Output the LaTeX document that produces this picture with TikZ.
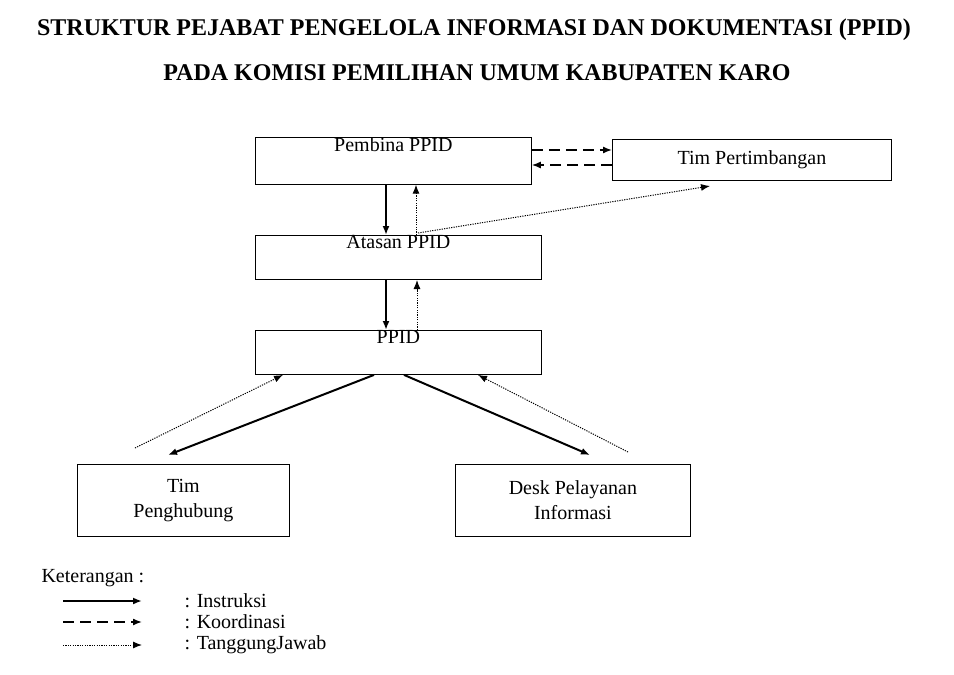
\documentclass[tikz,border=0pt]{standalone}
\usepackage{fontspec}
\setmainfont{Liberation Serif}
\usetikzlibrary{positioning,arrows.meta}
\tikzset{
	kotak/.style={draw,line width=0.8pt,anchor=north west,inner sep=0pt,align=center,font=\fontsize{20}{25}\selectfont},
	instruksi/.style={line width=2pt,-{Latex[length=9pt,width=7pt]}},
	koordinasi/.style={line width=1.4pt,dash pattern=on 11pt off 6pt,-{Latex[length=9pt,width=7pt]}},
	tanggung/.style={line width=1pt,dash pattern=on 1.2pt off 1.2pt,-{Latex[length=9pt,width=7pt]}}
}
\begin{document}
\begin{tikzpicture}[x=1pt,y=-1pt]
\useasboundingbox (0,0) rectangle (954,675);

%Judul
\node[font=\bfseries\fontsize{24}{28}\selectfont] (judulA) at (474,30) {STRUKTUR PEJABAT PENGELOLA INFORMASI DAN DOKUMENTASI (PPID)};
\node[font=\bfseries\fontsize{24}{28}\selectfont] (judulB) at (477,73) {PADA KOMISI PEMILIHAN UMUM KABUPATEN KARO};

%Kotak
\node[kotak,minimum width=276pt,minimum height=46pt] (pembina) at (255,137) {Pembina PPID\\[8pt]};
\node[kotak,minimum width=279pt,minimum height=41pt] (tim) at (612,139) {Tim Pertimbangan};
\node[kotak,minimum width=286pt,minimum height=44pt] (atasan) at (255,235) {Atasan PPID\\[6pt]};
\node[kotak,minimum width=286pt,minimum height=43pt] (ppid) at (255,330) {PPID\\[6pt]};
\node[kotak,minimum width=212pt,minimum height=72pt] (hubung) at (77,464) {Tim\\Penghubung};
\node[kotak,minimum width=235pt,minimum height=72pt] (desk) at (455,464) {Desk Pelayanan\\Informasi};

%Titik bebas
\coordinate (dA) at (135,448);
\coordinate (dB) at (628,452);

%Panah
\draw[instruksi] (pembina.south -| 386,0) -- (atasan.north -| 386,0);
\draw[tanggung] (atasan.north -| 416,0) -- (pembina.south -| 416,0);
\draw[tanggung] (418,233) -- (710,186);
\draw[koordinasi] (pembina.east |- 0,150) -- (tim.west |- 0,150);
\draw[koordinasi] (tim.west |- 0,165) -- (pembina.east |- 0,165);
\draw[instruksi] (atasan.south -| 386,0) -- (ppid.north -| 386,0);
\draw[tanggung] (ppid.north -| 417,0) -- (atasan.south -| 417,0);
\draw[instruksi] (ppid.south -| 374,0) -- (168,455);
\draw[tanggung] (dA) -- (ppid.south -| 283,0);
\draw[instruksi] (ppid.south -| 404,0) -- (590,455);
\draw[tanggung] (dB) -- (ppid.south -| 478,0);

%Keterangan
\node[anchor=west,font=\fontsize{20}{24}\selectfont] (ket) at (38,578) {Keterangan :};
\foreach \y/\teks/\gaya/\nama in {601/Instruksi/instruksi/a,622/Koordinasi/koordinasi/b,645/TanggungJawab/tanggung/c}{
	\coordinate (ka\nama) at (63,\y);
	\coordinate (kb\nama) at (142,\y);
	\draw[\gaya] (ka\nama) -- (kb\nama);
	\node[anchor=west,font=\fontsize{20}{24}\selectfont] (kt\nama) at (181,\y) {: \teks};
}
\end{tikzpicture}
\end{document}
